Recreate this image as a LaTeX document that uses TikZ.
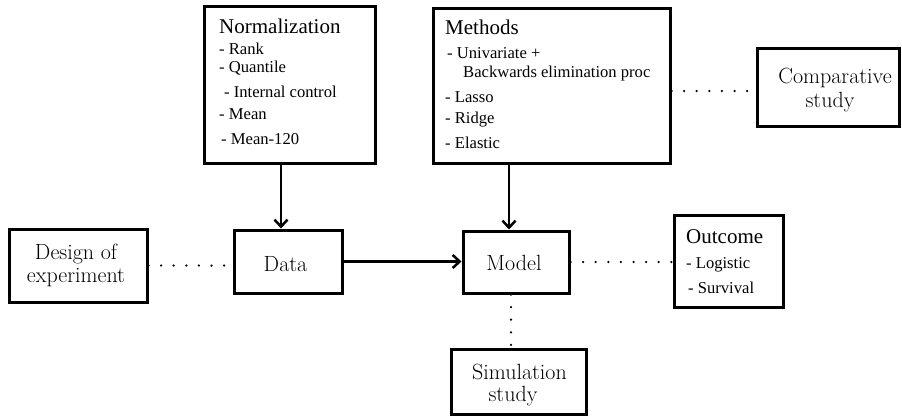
\documentclass[tikz,border=0pt]{standalone}
\usepackage{fontspec}
\newfontfamily\tnr{Liberation Serif}
\usetikzlibrary{arrows.meta}
\begin{document}
\begin{tikzpicture}[x=1pt,y=-1pt,
 box/.style={draw, line width=3pt, inner sep=0pt},
 lab/.style={font=\fontsize{22}{24}\selectfont, anchor=base, inner sep=0pt},
 head/.style={font=\tnr\fontsize{21}{24}\selectfont, anchor=base west, inner sep=0pt},
 item/.style={font=\tnr\fontsize{16.6}{19}\selectfont, anchor=base west, inner sep=0pt},
 arr/.style={line width=2.5pt, -{Straight Barb[length=7pt,width=13pt]}},
 dots/.style={line width=2.5pt, line cap=round, dash pattern=on 0pt off 12.6pt}]
\useasboundingbox (0,0) rectangle (902,416);

% boxes
\node[box, minimum width=171pt, minimum height=157pt] (norm) at (289.5,84.5) {};
\node[box, minimum width=237pt, minimum height=155pt] (methods) at (551.5,85.5) {};
\node[box, minimum width=142pt, minimum height=78pt] (comp) at (828,87) {};
\node[box, minimum width=138pt, minimum height=73pt] (design) at (78,265.5) {};
\node[box, minimum width=108pt, minimum height=63pt] (data) at (288,261.5) {};
\node[box, minimum width=106pt, minimum height=62pt] (model) at (516,262) {};
\node[box, minimum width=109pt, minimum height=92pt] (outcome) at (728.5,261) {};
\node[box, minimum width=135pt, minimum height=65pt] (sim) at (518.5,381.5) {};

% Normalization text
\node[head] (n0) at (219,33) {Normalization};
\node[item] (n1) at (219,54) {- Rank};
\node[item] (n2) at (219,72.5) {- Quantile};
\node[item] (n3) at (224,97) {- Internal control};
\node[item] (n4) at (219,119.5) {- Mean};
\node[item] (n5) at (221,144) {- Mean-120};

% Methods text
\node[head] (m0) at (445,34) {Methods};
\node[item] (m1) at (447,58) {- Univariate +};
\node[item] (m2) at (463,77.5) {Backwards elimination proc};
\node[item] (m3) at (445,102) {- Lasso};
\node[item] (m4) at (445,123.5) {- Ridge};
\node[item] (m5) at (445,148) {- Elastic};

% Outcome text
\node[head] (o0) at (686,243) {Outcome};
\node[item] (o1) at (686,268) {- Logistic};
\node[item] (o2) at (688,293) {- Survival};

% labels
\node[lab] (c0) at (835,83.5) {Comparative};
\node[lab] (c1) at (830,107.5) {study};
\node[lab] (d0) at (76,259) {Design of};
\node[lab] (d1) at (76,282) {experiment};
\node[lab] (dt) at (285.5,271) {Data};
\node[lab] (md) at (514,270) {Model};
\node[lab] (s0) at (519.5,379) {Simulation};
\node[lab] (s1) at (513,401) {study};

% helper coordinates
\coordinate (xa) at (281,0);
\coordinate (xb) at (509,0);
\coordinate (xc) at (511,0);
\coordinate (ya) at (0,91);

% arrows
\draw[arr] (norm.south -| xa) -- (data.north -| xa);
\draw[arr] (methods.south -| xb) -- (model.north -| xb);
\draw[arr] (data.east) -- (data.east -| model.west);

% dotted links
\draw[dots] (design.east) -- (design.east -| data.west);
\draw[dots] (model.east) -- (model.east -| outcome.west);
\draw[dots] (methods.east |- ya) -- (comp.west |- ya);
\draw[dots] (model.south -| xc) -- (sim.north -| xc);
\end{tikzpicture}
\end{document}
